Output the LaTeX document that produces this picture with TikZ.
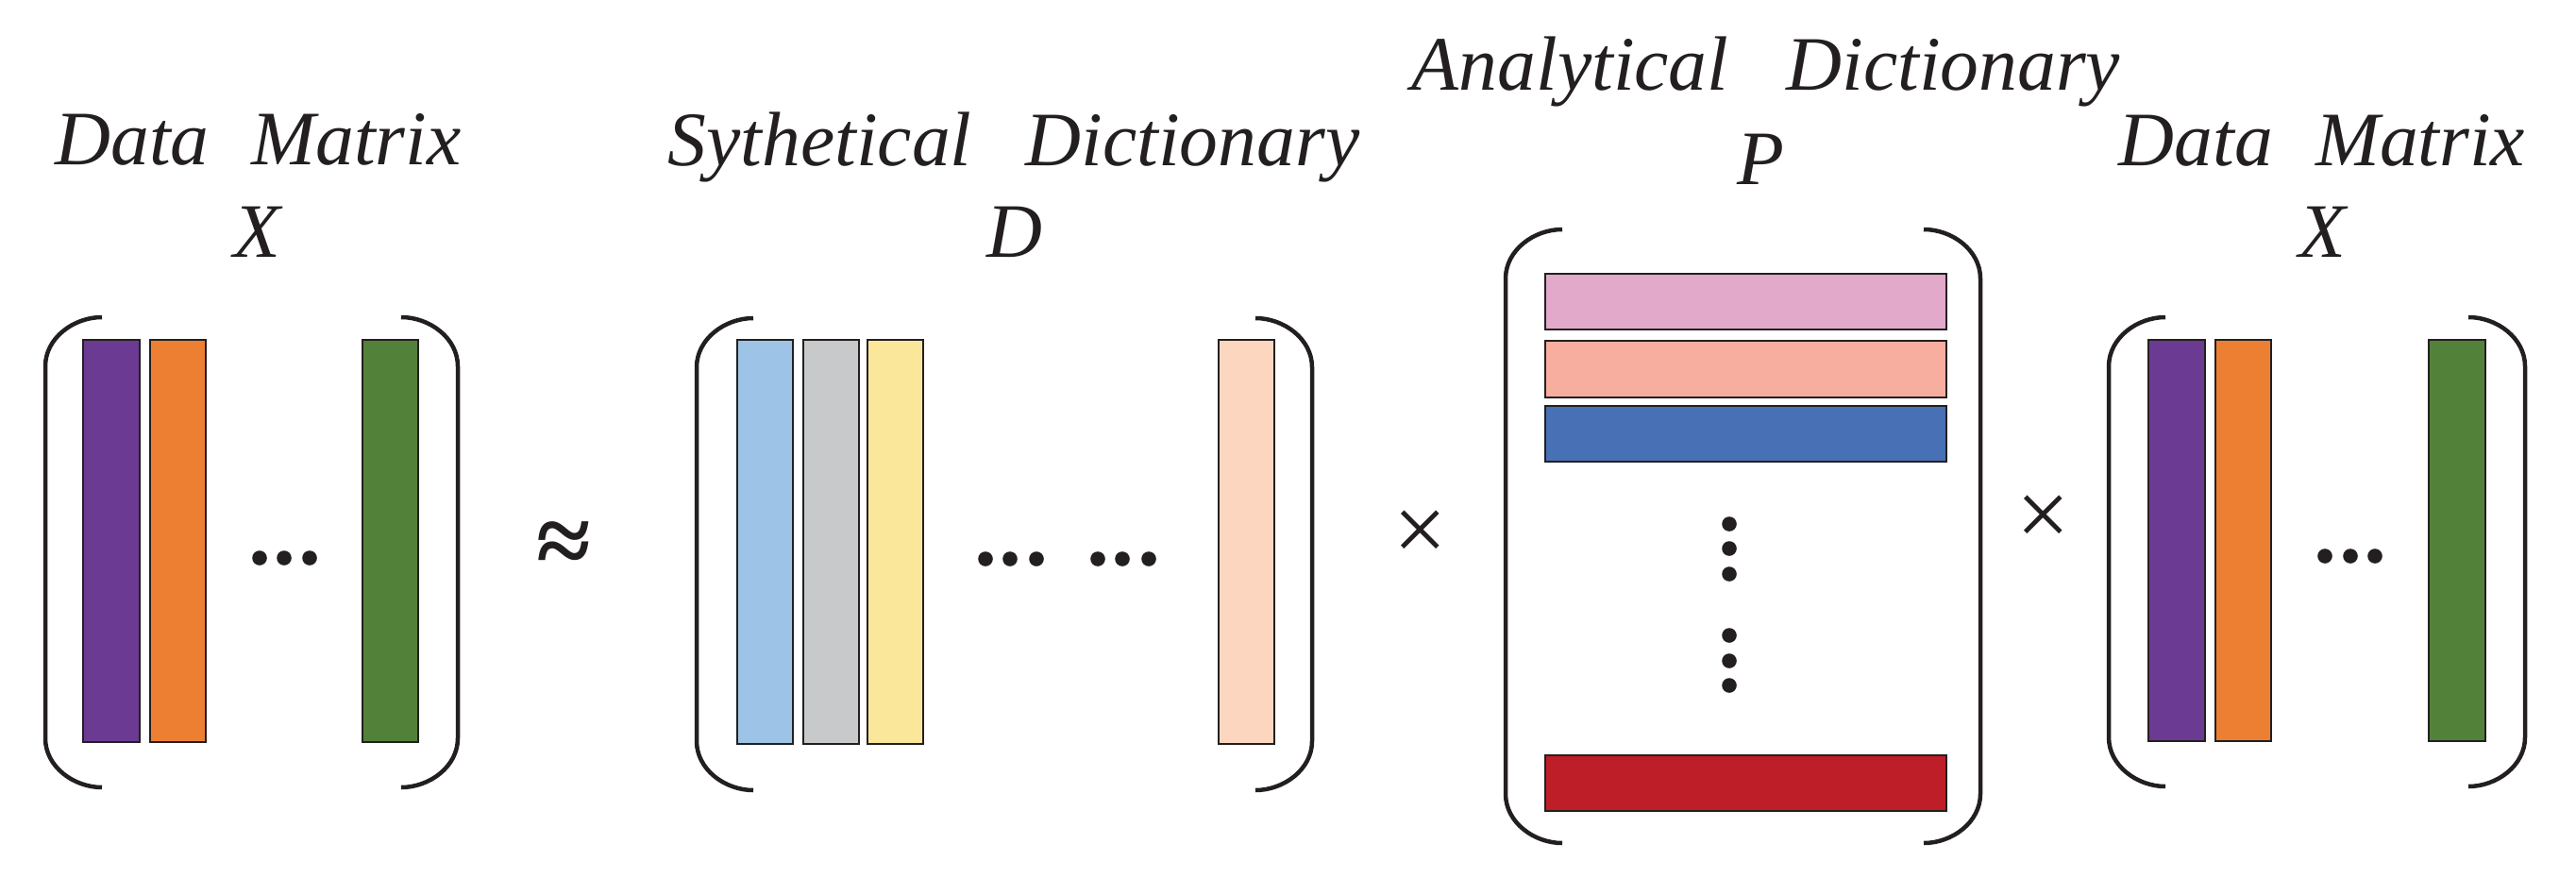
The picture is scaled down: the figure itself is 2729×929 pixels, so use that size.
\documentclass[tikz,border=0pt]{standalone}
\usepackage{fontspec}
\setmainfont{Liberation Serif}
\definecolor{ink}{HTML}{231F20}
\definecolor{cpurple}{HTML}{6B3A93}
\definecolor{corange}{HTML}{ED7F33}
\definecolor{cgreen}{HTML}{52813A}
\definecolor{clblue}{HTML}{9DC3E6}
\definecolor{cgray}{HTML}{C8C9CB}
\definecolor{cyellow}{HTML}{FBE79A}
\definecolor{cpeach}{HTML}{FCD6BE}
\definecolor{cpink}{HTML}{E2A9CB}
\definecolor{csalmon}{HTML}{F7AE9F}
\definecolor{cblue}{HTML}{4870B4}
\definecolor{cred}{HTML}{BE1E27}
\newcommand\parenpair[4]{%
  \draw[brk] ({#1+60},#3) .. controls ({#1+30},#3) and (#1,{#3+22}) .. (#1,{#3+52}) -- (#1,{#4-52}) .. controls (#1,{#4-22}) and ({#1+30},#4) .. ({#1+60},#4);
  \draw[brk] ({#2-60},#3) .. controls ({#2-30},#3) and (#2,{#3+22}) .. (#2,{#3+52}) -- (#2,{#4-52}) .. controls (#2,{#4-22}) and ({#2-30},#4) .. ({#2-60},#4);}
\begin{document}
\begin{tikzpicture}[x=1pt,y=-1pt,
  brk/.style={draw=ink,line width=4.5pt},
  bar/.style={draw=ink,line width=1.2pt},
  lbl/.style={inner sep=0pt,anchor=base,text=ink,font=\fontsize{81.6}{98}\selectfont\itshape},
  opsym/.style={inner sep=0pt,text=ink,font=\fontsize{100}{110}\selectfont},
  dot/.style={fill=ink,draw=none}]
\useasboundingbox (0,0) rectangle (2729,929);
% ---- left data matrix X
\node[lbl] (t1) at (273.5,174) {Data\hspace{0.55em}Matrix};
\node[lbl] (x1) at (272,272) {X};
\parenpair{48}{485}{336}{834}
\draw[bar,fill=cpurple] (88,360) rectangle (148,786);
\draw[bar,fill=corange] (159,360) rectangle (218,786);
\draw[bar,fill=cgreen] (384,360) rectangle (443,786);
\foreach \xx in {275,301,328} \fill[dot] (\xx,591) circle (7.8);
% ---- approx
\node[opsym,font=\fontsize{105}{110}\selectfont\bfseries] (apx) at (597,581) {≈};
% ---- synthetical dictionary D
\node[lbl] (t2) at (1074,175) {Sythetical\hspace{0.7em}Dictionary};
\node[lbl] (d) at (1075,272) {D};
\parenpair{738}{1390}{337}{837}
\draw[bar,fill=clblue] (781,360) rectangle (840,788);
\draw[bar,fill=cgray] (851,360) rectangle (910,788);
\draw[bar,fill=cyellow] (919,360) rectangle (978,788);
\draw[bar,fill=cpeach] (1291,360) rectangle (1350,788);
\foreach \xx in {1044,1070,1098,1163,1189,1217} \fill[dot] (\xx,592) circle (7.8);
% ---- times
\node[opsym] (m1) at (1505,568) {×};
% ---- analytical dictionary P
\node[lbl] (t3) at (1871,95) {Analytical\hspace{0.75em}Dictionary};
\node[lbl] (p) at (1865,195) {P};
\parenpair{1595}{2098}{243}{893}
\draw[bar,fill=cpink] (1637,290) rectangle (2062,349);
\draw[bar,fill=csalmon] (1637,361) rectangle (2062,421);
\draw[bar,fill=cblue] (1637,430) rectangle (2062,489);
\draw[bar,fill=cred] (1637,800) rectangle (2062,859);
\foreach \yy in {555,581,608,673,700,726} \fill[dot] (1832,\yy) circle (7.8);
% ---- times
\node[opsym] (m2) at (2165,552) {×};
% ---- right data matrix X
\node[lbl] (t4) at (2460,175) {Data\hspace{0.55em}Matrix};
\node[lbl] (x2) at (2460,272) {X};
\parenpair{2234}{2675}{336}{833}
\draw[bar,fill=cpurple] (2276,360) rectangle (2336,785);
\draw[bar,fill=corange] (2347,360) rectangle (2406,785);
\draw[bar,fill=cgreen] (2573,360) rectangle (2633,785);
\foreach \xx in {2463,2490,2516} \fill[dot] (\xx,589) circle (7.8);
\end{tikzpicture}
\end{document}
